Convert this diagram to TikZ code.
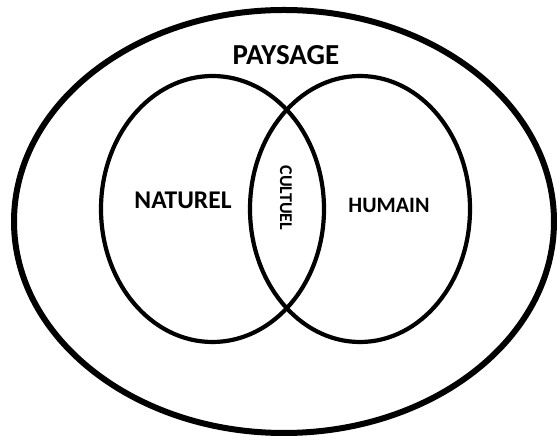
\documentclass[tikz,border=0pt]{standalone}
\usepackage{fontspec}
\setmainfont{Carlito}
\begin{document}
\begin{tikzpicture}[x=1pt,y=1pt,
  outerring/.style={line width=6pt},
  innerring/.style={line width=4.2pt},
  lbl/.style={font=\bfseries, inner sep=0pt}]
\useasboundingbox (0,0) rectangle (557,438);
\fill[white] (0,0) rectangle (557,438);
\draw[outerring] (284,216.5) ellipse [x radius=270, y radius=211.5];
\draw[innerring] (212.5,229) ellipse [x radius=111.5, y radius=133];
\draw[innerring] (360,229) ellipse [x radius=110, y radius=133];
\node[lbl, font=\bfseries\fontsize{29}{32}\selectfont] (paysage) at (286,383) {PAYSAGE};
\node[lbl, font=\bfseries\fontsize{25.5}{28}\selectfont] (naturel) at (183,238) {NATUREL};
\node[lbl, font=\bfseries\fontsize{22}{24}\selectfont] (humain) at (389,233) {HUMAIN};
\node[lbl, font=\bfseries\fontsize{18}{20}\selectfont, rotate=-90] (cultuel) at (286,240) {CULTUEL};
\end{tikzpicture}
\end{document}
